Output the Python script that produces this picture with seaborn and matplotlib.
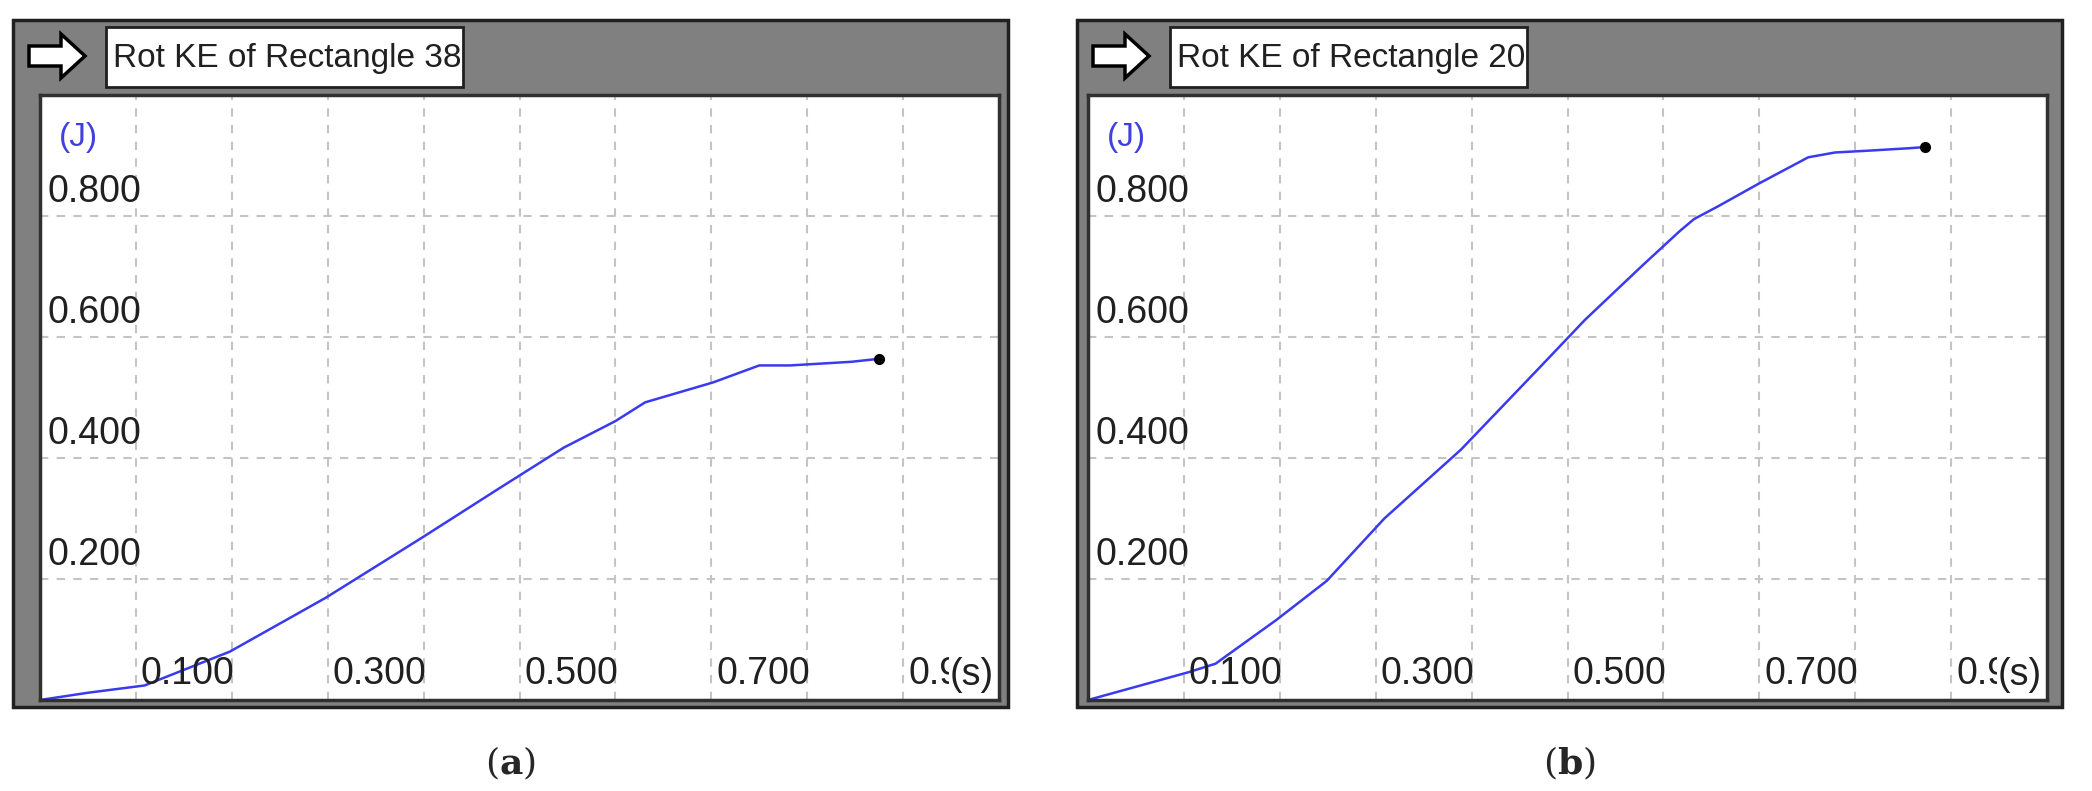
import numpy as np
import pandas as pd
import matplotlib
matplotlib.use("Agg")
import matplotlib.pyplot as plt
import matplotlib.transforms as mtransforms
from matplotlib.patches import Rectangle, FancyArrow
import seaborn as sns

# panel (a): Rot KE of Rectangle 38
time_a = [0.0, 0.05, 0.109, 0.198, 0.298, 0.40, 0.478, 0.546, 0.60, 0.631, 0.702, 0.75, 0.782, 0.846, 0.875]
ke_a = [0.0, 0.012, 0.024, 0.080, 0.169, 0.270, 0.349, 0.417, 0.461, 0.492, 0.525, 0.553, 0.553, 0.559, 0.564]

# panel (b): Rot KE of Rectangle 20
time_b = [0.0, 0.105, 0.133, 0.197, 0.249, 0.309, 0.389, 0.47, 0.518, 0.578, 0.617, 0.632, 0.657, 0.70, 0.751, 0.779, 0.814, 0.856, 0.873]
ke_b = [0.0, 0.046, 0.060, 0.133, 0.197, 0.300, 0.414, 0.548, 0.628, 0.718, 0.775, 0.795, 0.816, 0.854, 0.897, 0.905, 0.908, 0.912, 0.914]

titles = ["Rot KE of Rectangle 38", "Rot KE of Rectangle 20"]
captions = ["a", "b"]
x_ticks = [0.1, 0.3, 0.5, 0.7]
x_tick_labels = ["0.100", "0.300", "0.500", "0.700"]
y_ticks = [0.2, 0.4, 0.6, 0.8]
y_tick_labels = ["0.200", "0.400", "0.600", "0.800"]

sns.set_style("white")
plt.rcParams['font.family'] = ['Liberation Sans Narrow', 'Liberation Sans', 'DejaVu Sans']
plt.rcParams['mathtext.fontset'] = 'dejavuserif'

W, H = 2092, 791
fig = plt.figure(figsize=(W / 100, H / 100), dpi=100)


def fx(px):
    return px / W


def fy(py):
    return 1 - py / H


# pixel geometry of each panel: frame left/right, plot left/right
panels = [(13, 1008, 40, 999), (1077, 2062, 1088, 2047)]
series = [(time_a, ke_a), (time_b, ke_b)]

for (fl, fr, pl, pr), (t, v), title, cap in zip(panels, series, titles, captions):
    # grey window frame
    fig.patches.append(Rectangle((fx(fl), fy(707)), fx(fr - fl), (707 - 20) / H,
                                 transform=fig.transFigure, facecolor="#808080",
                                 edgecolor="#202020", linewidth=2.5, zorder=0))
    # white title box
    fig.patches.append(Rectangle((fx(fl + 93), fy(87)), fx(357), 60 / H,
                                 transform=fig.transFigure, facecolor="white",
                                 edgecolor="#202020", linewidth=2, zorder=1))
    fig.text(fx(fl + 100), fy(58), title, fontsize=24, color="#202020", va="center", ha="left")
    # arrow icon
    fig.patches.append(FancyArrow(fx(fl + 16), fy(56), fx(56), 0, width=20 / H,
                                  head_width=44 / H, head_length=fx(24),
                                  length_includes_head=True, transform=fig.transFigure,
                                  facecolor="white", edgecolor="black", linewidth=2.5, zorder=2))

    ax = fig.add_axes([fx(pl), fy(700), fx(pr - pl), (700 - 95) / H])
    ax.set_zorder(3)
    df = pd.DataFrame({"t": t, "v": v})
    sns.lineplot(data=df, x="t", y="v", ax=ax, color="#3a3af0", linewidth=1.8)
    ax.plot(t[-1], v[-1], "o", color="black", markersize=7)

    ax.set_xlim(0, 1.0)
    ax.set_ylim(0, 1.0)
    ax.set_xticks(np.arange(0.1, 1.0, 0.1))
    ax.set_yticks(y_ticks)
    ax.tick_params(length=0, labelbottom=False, labelleft=False)
    ax.grid(True, linestyle=(0, (4, 4)), color="#c4c4c4", linewidth=1.5)
    ax.set_xlabel("")
    ax.set_ylabel("")
    for s in ax.spines.values():
        s.set_color("#303030")
        s.set_linewidth(2.5)

    # tick labels drawn inside the plot, as in the original software
    off_x = mtransforms.ScaledTranslation(5 / 100, 8 / 100, fig.dpi_scale_trans)
    for xt, lab in zip(x_ticks, x_tick_labels):
        ax.text(xt, 0, lab, transform=ax.transData + off_x, fontsize=27,
                ha="left", va="bottom", color="#202020")
    ax.text(0.9, 0, "0.9", transform=ax.transData + off_x, fontsize=27,
            ha="left", va="bottom", color="#202020")
    ax.text(0.995, 0.012, "(s)", transform=ax.transAxes, fontsize=27,
            ha="right", va="bottom", color="#202020",
            bbox=dict(facecolor="white", edgecolor="none", pad=1))
    off_y = mtransforms.ScaledTranslation(0, 6 / 100, fig.dpi_scale_trans)
    for yt, lab in zip(y_ticks, y_tick_labels):
        ax.text(0.008, yt, lab, transform=ax.get_yaxis_transform() + off_y, fontsize=27,
                ha="left", va="bottom", color="#202020")
    ax.text(0.02, 0.955, "(J)", transform=ax.transAxes, fontsize=24,
            ha="left", va="top", color="#4040e0")

    # caption (a) / (b)
    fig.text(fx((fl + fr) / 2), fy(763), "($\\mathbf{%s}$)" % cap, fontsize=26,
             family="DejaVu Serif", ha="center", va="center")

fig.savefig("out.png", dpi=100)
